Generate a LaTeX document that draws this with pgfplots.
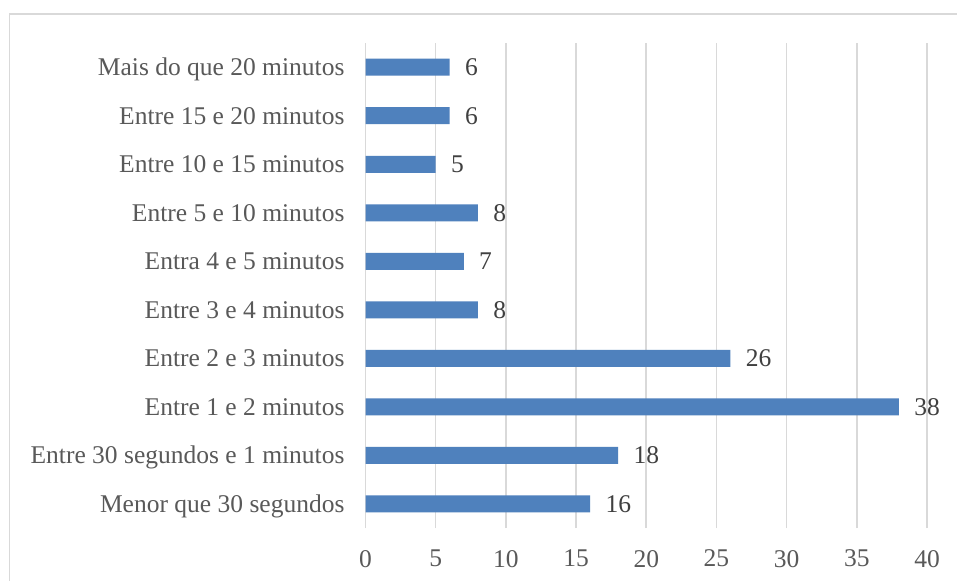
\documentclass[border=0pt]{standalone}
\usepackage{pgfplots}
\pgfplotsset{compat=1.18}
\usepackage{fontspec}
\setmainfont{Liberation Serif}
\definecolor{barblue}{HTML}{4F81BD}
\definecolor{txtgray}{HTML}{595959}
\definecolor{lbl}{HTML}{404040}
\definecolor{gridgray}{HTML}{D9D9D9}
\begin{document}
\begin{tikzpicture}[x=1bp,y=1bp]
\useasboundingbox (0,0) rectangle (478.5,290);
\fill[white] (0,0) rectangle (478.5,290);
\draw[gridgray, line width=0.8bp] (4.75,-5) -- (4.75,283) -- (485,283);
\begin{axis}[
  at={(182.75bp,26bp)}, anchor=south west,
  scale only axis,
  width=280.75bp, height=242.5bp,
  xbar, bar width=8.5bp,
  xmin=0, xmax=40, ymin=-0.5, ymax=9.5,
  xtick={0,5,...,40},
  ytick={0,...,9},
  yticklabels={Menor que 30 segundos,Entre 30 segundos e 1 minutos,Entre 1 e 2 minutos,Entre 2 e 3 minutos,Entre 3 e 4 minutos,Entra 4 e 5 minutos,Entre 5 e 10 minutos,Entre 10 e 15 minutos,Entre 15 e 20 minutos,Mais do que 20 minutos},
  axis line style={draw=none},
  major tick length=0pt,
  xmajorgrids, grid style={gridgray, line width=0.8bp},
  /pgf/number format/assume math mode=true,
  ticklabel style={font=\fontsize{12.8}{15}\selectfont, text=txtgray},
  xticklabel style={yshift=-7.5bp},
  yticklabel style={xshift=-7bp, text height=10bp, text depth=1.5bp},
  nodes near coords,
  nodes near coords style={font=\fontsize{12.8}{15}\selectfont, text=lbl, xshift=4.2bp, text height=10bp, text depth=1.5bp},
]
\addplot[fill=barblue, draw=none] coordinates {
(16,0) (18,1) (38,2) (26,3) (8,4) (7,5) (8,6) (5,7) (6,8) (6,9)
};
\end{axis}
\end{tikzpicture}
\end{document}
